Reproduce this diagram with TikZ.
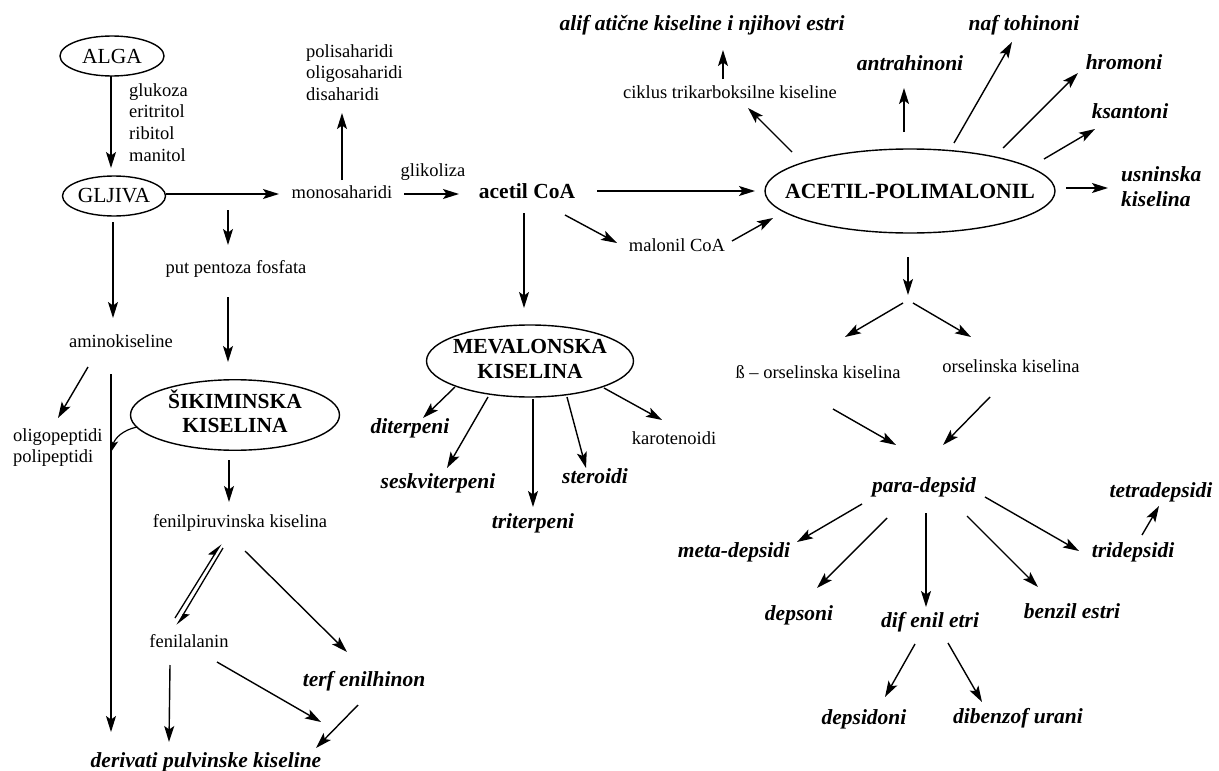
\documentclass[tikz,border=0pt]{standalone}
\usepackage{fontspec}
\setmainfont{Liberation Serif}
\usetikzlibrary{arrows.meta,shapes.geometric}
\begin{document}
\begin{tikzpicture}[x=1pt,y=-1pt,
  arr/.style={-{Stealth[length=16pt,width=10pt,inset=3.5pt]}, line width=1.4pt},
  harp/.style={-{Stealth[harpoon,length=14pt,width=11pt,inset=3pt]}, line width=1.3pt},
  txt/.style={font=\fontsize{18.5}{21.7}\selectfont, inner sep=0pt, text height=13pt, text depth=4pt},
  ml/.style={font=\fontsize{18.5}{21.7}\selectfont, inner sep=0pt, align=left, anchor=north west},
  bld/.style={font=\fontsize{21.5}{25}\selectfont\bfseries, inner sep=0pt, text height=15pt, text depth=4.5pt},
  bi/.style={font=\fontsize{21.5}{25}\selectfont\bfseries\itshape, inner sep=0pt, text height=15pt, text depth=4.5pt},
  oval/.style={draw, ellipse, line width=1.4pt, inner sep=0pt},
]
\useasboundingbox (0,0) rectangle (1219,771);

% ---------- ovals ----------
\node[oval, minimum width=104pt, minimum height=40pt, font=\fontsize{21.5}{24}\selectfont] (alga) at (112,56) {\makebox[0pt]{ALGA}};
\node[oval, minimum width=103pt, minimum height=40pt, font=\fontsize{21.5}{24}\selectfont] (gljiva) at (114,196) {\makebox[0pt]{GLJIVA}};
\node[oval, minimum width=209pt, minimum height=70pt, font=\fontsize{21.5}{24}\selectfont\bfseries] (sik) at (235,415) {\makebox[0pt]{\begin{tabular}{@{}c@{}}ŠIKIMINSKA\\KISELINA\end{tabular}}};
\node[oval, minimum width=207pt, minimum height=72pt, font=\fontsize{21.5}{25}\selectfont\bfseries] (mev) at (530,361) {\makebox[0pt]{\begin{tabular}{@{}c@{}}MEVALONSKA\\KISELINA\end{tabular}}};
\node[oval, minimum width=290pt, minimum height=84pt, font=\fontsize{21.7}{25}\selectfont\bfseries] (acp) at (910,191) {\makebox[0pt]{ACETIL-POLIMALONIL}};

% ---------- plain text ----------
\node[ml] (gluk) at (129,83) {glukoza\\eritritol\\ribitol\\manitol};
\node[ml, font=\fontsize{18.5}{21.5}\selectfont] (poly) at (306,44) {polisaharidi\\oligosaharidi\\disaharidi};
\node[txt] (mono) at (342,194) {monosaharidi};
\node[txt] (glik) at (433,172) {glikoliza};
\node[txt] (ppf) at (236,269) {put pentoza fosfata};
\node[txt] (amino) at (121,343) {aminokiseline};
\node[ml, font=\fontsize{18.5}{21}\selectfont] (oligo) at (13,428) {oligopeptidi\\polipeptidi};
\node[txt] (fpir) at (240,523) {fenilpiruvinska kiselina};
\node[txt] (fala) at (189,643) {fenilalanin};
\node[txt] (malonil) at (677,247) {malonil CoA};
\node[txt] (ciklus) at (730,94) {ciklus trikarboksilne kiseline};
\node[txt] (karot) at (674,440) {karotenoidi};
\node[txt] (beta) at (818,374) {ß – orselinska kiselina};
\node[txt] (orsel) at (1011,368) {orselinska kiselina};

% ---------- bold ----------
\node[bld] (acetil) at (527,193) {acetil CoA};

% ---------- bold italic ----------
\node[bi] (alif) at (702,25) {alif atične kiseline i njihovi estri};
\node[bi] (antrah) at (910,65) {antrahinoni};
\node[bi] (naft) at (1024,25) {naf tohinoni};
\node[bi] (hrom) at (1124,64) {hromoni};
\node[bi] (ksant) at (1130,113) {ksantoni};
\node[ml, font=\fontsize{21.5}{25}\selectfont\bfseries\itshape] (usn) at (1121,166) {usninska\\kiselina};
\node[bi] (diterp) at (410,428) {diterpeni};
\node[bi] (seskv) at (438,483) {seskviterpeni};
\node[bi] (triterp) at (533,523) {triterpeni};
\node[bi] (steroidi) at (595,478) {steroidi};
\node[bi] (terf) at (364,681) {terf enilhinon};
\node[bi] (deriv) at (206,762) {derivati pulvinske kiseline};
\node[bi] (para) at (924,487) {para-depsid};
\node[bi] (meta) at (734,552) {meta-depsidi};
\node[bi] (depsoni) at (799,615) {depsoni};
\node[bi] (difenil) at (930,622) {dif enil etri};
\node[bi] (benzil) at (1072,613) {benzil estri};
\node[bi] (tri) at (1133,552) {tridepsidi};
\node[bi] (tetra) at (1161,492) {tetradepsidi};
\node[bi] (depsidoni) at (864,719) {depsidoni};
\node[bi] (dibenzo) at (1018,718) {dibenzof urani};

% ---------- free coordinates ----------
\coordinate (ppin) at (228,210);
\coordinate (join) at (111,452);
\coordinate (split) at (908,301);

% ---------- left part ----------
\draw[arr] ([shift={(-1,20)}]alga.center) -- ([shift={(-3,-28)}]gljiva.center);
\draw[arr] ([shift={(52,-2)}]gljiva.center) -- ([shift={(-63,0)}]mono.center);
\draw[arr] ([shift={(0,-14)}]mono.center) -- ([shift={(36,69)}]poly.north west);
\draw[arr] (ppin) -- ([shift={(-8,-24)}]ppf.center);
\draw[arr] ([shift={(-8,28)}]ppf.center) -- ([shift={(-7,-53)}]sik.center);
\draw[arr] ([shift={(-1,26)}]gljiva.center) -- ([shift={(-8,-25)}]amino.center);
\draw[arr] ([shift={(-33,24)}]amino.center) -- ([shift={(45,-10)}]oligo.north west);
\draw[arr, line width=1.2pt] ([shift={(-10,31)}]amino.center) -- ([shift={(-95,-30)}]deriv.center);
\draw[-{Stealth[length=12pt,width=8pt,inset=3pt]}, line width=1.2pt] ([shift={(-98,12)}]sik.center) .. controls +(-14,3) and +(4,-14) .. (join);
\draw[arr] ([shift={(-6,45)}]sik.center) -- ([shift={(-11,-21)}]fpir.center);
\draw[harp] ([shift={(-14,-25)}]fala.center) -- ([shift={(-19,21)}]fpir.center);
\draw[harp] ([shift={(-17,25)}]fpir.center) -- ([shift={(-12,-18)}]fala.center);
\draw[arr] ([shift={(5,28)}]fpir.center) -- ([shift={(-17,-29)}]terf.center);
\draw[arr] ([shift={(-19,22)}]fala.center) -- ([shift={(-37,-20)}]deriv.center);
\draw[arr] ([shift={(28,19)}]fala.center) -- ([shift={(115,-40)}]deriv.center);
\draw[arr] ([shift={(-6,24)}]terf.center) -- ([shift={(110,-14)}]deriv.center);

% ---------- centre ----------
\draw[arr] ([shift={(62,0)}]mono.center) -- ([shift={(-68,1)}]acetil.center);
\draw[arr] ([shift={(70,-2)}]acetil.center) -- ([shift={(-155,0)}]acp.center);
\draw[arr] ([shift={(38,22)}]acetil.center) -- ([shift={(-60,-4)}]malonil.center);
\draw[arr] ([shift={(55,-6)}]malonil.center) -- ([shift={(-137,27)}]acp.center);
\draw[arr] ([shift={(-3,20)}]acetil.center) -- ([shift={(-6,-53)}]mev.center);
\draw[arr] ([shift={(-75,26)}]mev.center) -- ([shift={(13,-10)}]diterp.center);
\draw[arr] ([shift={(-42,36)}]mev.center) -- ([shift={(9,-15)}]seskv.center);
\draw[arr] ([shift={(3,38)}]mev.center) -- ([shift={(0,-16)}]triterp.center);
\draw[arr] ([shift={(37,36)}]mev.center) -- ([shift={(-9,-10)}]steroidi.center);
\draw[arr] ([shift={(74,27)}]mev.center) -- ([shift={(-12,-20)}]karot.center);

% ---------- right part ----------
\draw[arr] ([shift={(-118,-39)}]acp.center) -- ([shift={(18,14)}]ciklus.center);
\draw[arr] ([shift={(-7,-15)}]ciklus.center) -- ([shift={(21,25)}]alif.center);
\draw[arr] ([shift={(-6,-59)}]acp.center) -- ([shift={(-6,23)}]antrah.center);
\draw[arr] ([shift={(44,-48)}]acp.center) -- ([shift={(-12,17)}]naft.center);
\draw[arr] ([shift={(93,-43)}]acp.center) -- ([shift={(-46,9)}]hrom.center);
\draw[arr] ([shift={(134,-32)}]acp.center) -- ([shift={(-35,16)}]ksant.center);
\draw[arr] ([shift={(156,-3)}]acp.center) -- ([shift={(-13,22)}]usn.north west);
\draw[arr] ([shift={(-2,66)}]acp.center) -- ([shift={(0,-6)}]split);
\draw[arr] ([shift={(-5,2)}]split) -- ([shift={(27,-37)}]beta.center);
\draw[arr] ([shift={(5,2)}]split) -- ([shift={(-40,-31)}]orsel.center);
\draw[arr] ([shift={(15,35)}]beta.center) -- ([shift={(-28,-42)}]para.center);
\draw[arr] ([shift={(-21,29)}]orsel.center) -- ([shift={(19,-42)}]para.center);
\draw[arr] ([shift={(-62,17)}]para.center) -- ([shift={(63,-10)}]meta.center);
\draw[arr] ([shift={(-37,31)}]para.center) -- ([shift={(18,-27)}]depsoni.center);
\draw[arr] ([shift={(2,26)}]para.center) -- ([shift={(-4,-15)}]difenil.center);
\draw[arr] ([shift={(43,29)}]para.center) -- ([shift={(-34,-26)}]benzil.center);
\draw[arr] ([shift={(61,10)}]para.center) -- ([shift={(-54,-1)}]tri.center);
\draw[arr] ([shift={(9,-17)}]tri.center) -- ([shift={(-2,14)}]tetra.center);
\draw[arr] ([shift={(-15,22)}]difenil.center) -- ([shift={(21,-22)}]depsidoni.center);
\draw[arr] ([shift={(18,21)}]difenil.center) -- ([shift={(-36,-16)}]dibenzo.center);
\end{tikzpicture}
\end{document}
